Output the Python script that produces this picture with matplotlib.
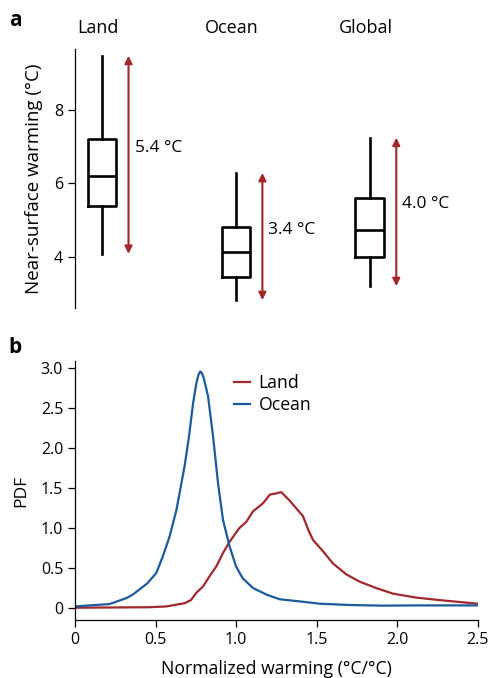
import matplotlib
matplotlib.use("Agg")
import matplotlib.pyplot as plt

plt.rcParams['font.family'] = ['Open Sans', 'DejaVu Sans']
plt.rcParams['axes.linewidth'] = 0.9

red = '#a1282c'
blue = '#1b5b9c'

# panel a: box statistics (°C)
regions = ['Land', 'Ocean', 'Global']
whislo = [4.08, 2.82, 3.20]
q1 = [5.38, 3.45, 3.99]
med = [6.20, 4.13, 4.73]
q3 = [7.21, 4.81, 5.60]
whishi = [9.47, 6.28, 7.24]
spread_labels = ['5.4 °C', '3.4 °C', '4.0 °C']
label_y = [6.96, 4.73, 5.44]

# panel b: PDFs of normalized warming
ocean_x = [0, 0.215, 0.32, 0.36, 0.45, 0.505, 0.546, 0.588, 0.63, 0.68, 0.708, 0.733, 0.753,
           0.767, 0.778, 0.79, 0.80, 0.826, 0.857, 0.888, 0.919, 0.96, 1.0, 1.04, 1.105, 1.19,
           1.27, 1.395, 1.52, 1.705, 1.91, 2.12, 2.33, 2.5]
ocean_y = [0.02, 0.05, 0.125, 0.17, 0.31, 0.44, 0.65, 0.9, 1.23, 1.77, 2.15, 2.56, 2.81,
           2.92, 2.96, 2.93, 2.87, 2.65, 2.15, 1.56, 1.10, 0.77, 0.52, 0.375, 0.25, 0.167,
           0.11, 0.083, 0.054, 0.038, 0.03, 0.033, 0.033, 0.033]
land_x = [0, 0.46, 0.567, 0.68, 0.72, 0.753, 0.795, 0.836, 0.877, 0.919, 0.96, 1.02, 1.064,
          1.105, 1.167, 1.21, 1.24, 1.28, 1.33, 1.415, 1.45, 1.478, 1.54, 1.6, 1.685, 1.767,
          1.87, 1.974, 2.12, 2.26, 2.5]
land_y = [0.004, 0.01, 0.02, 0.06, 0.10, 0.19, 0.27, 0.40, 0.52, 0.69, 0.83, 1.0, 1.08,
          1.21, 1.31, 1.42, 1.43, 1.45, 1.35, 1.15, 0.97, 0.85, 0.71, 0.56, 0.42, 0.33,
          0.25, 0.18, 0.13, 0.10, 0.054]

fig = plt.figure(figsize=(4.9, 6.78), dpi=100)

# ---- panel a
ax1 = fig.add_axes([0.153, 0.546, 0.806, 0.382])
stats = []
for i in range(3):
    stats.append({'whislo': whislo[i], 'q1': q1[i], 'med': med[i], 'q3': q3[i],
                  'whishi': whishi[i], 'fliers': []})
lw = 1.9
ax1.bxp(stats, positions=[0, 1, 2], widths=0.21, showcaps=False, showfliers=False,
        boxprops=dict(color='black', linewidth=lw),
        medianprops=dict(color='black', linewidth=lw),
        whiskerprops=dict(color='black', linewidth=lw))
for i in range(3):
    ax1.annotate('', xy=(i + 0.2, whishi[i]), xytext=(i + 0.2, whislo[i]),
                 arrowprops=dict(arrowstyle='<|-|>', color=red, lw=1.5,
                                 mutation_scale=11, shrinkA=0, shrinkB=0))
    ax1.text(i + 0.245, label_y[i], spread_labels[i], fontsize=12.5, va='center', ha='left')
    ax1.text(i - 0.03, 1.081, regions[i], fontsize=13, ha='center', va='center',
             transform=ax1.get_xaxis_transform())
ax1.set_xlim(-0.2, 2.75)
ax1.set_ylim(2.61, 9.66)
ax1.set_yticks([4, 6, 8])
ax1.set_ylabel('Near-surface warming (°C)', fontsize=13.5, labelpad=8)
for s in ['top', 'right', 'bottom']:
    ax1.spines[s].set_visible(False)
ax1.set_xticks([])
ax1.tick_params(axis='y', labelsize=11.5, length=5, width=0.9)
fig.text(0.018, 0.97, 'a', fontsize=15, fontweight='bold', va='center')

# ---- panel b
ax2 = fig.add_axes([0.153, 0.0855, 0.822, 0.382])
ax2.plot(land_x, land_y, color=red, lw=1.6, label='Land')
ax2.plot(ocean_x, ocean_y, color=blue, lw=1.6, label='Ocean')
ax2.set_xlim(0, 2.5)
ax2.set_ylim(-0.15, 3.09)
ax2.set_xticks([0, 0.5, 1.0, 1.5, 2.0, 2.5])
ax2.set_xticklabels(['0', '0.5', '1.0', '1.5', '2.0', '2.5'])
ax2.set_yticks([0, 0.5, 1.0, 1.5, 2.0, 2.5, 3.0])
ax2.set_yticklabels(['0', '0.5', '1.0', '1.5', '2.0', '2.5', '3.0'])
ax2.set_xlabel('Normalized warming (°C/°C)', fontsize=12.7, labelpad=9)
ax2.set_ylabel('PDF', fontsize=12.5, labelpad=8)
for s in ['top', 'right']:
    ax2.spines[s].set_visible(False)
ax2.tick_params(labelsize=11.5, length=5, width=0.9)
ax2.legend(loc='upper left', bbox_to_anchor=(0.355, 1.01), frameon=False, fontsize=12.7,
           handlelength=0.9, handletextpad=0.5, labelspacing=0.2)
fig.text(0.018, 0.487, 'b', fontsize=15, fontweight='bold', va='center')

fig.savefig('out.png', dpi=100)
